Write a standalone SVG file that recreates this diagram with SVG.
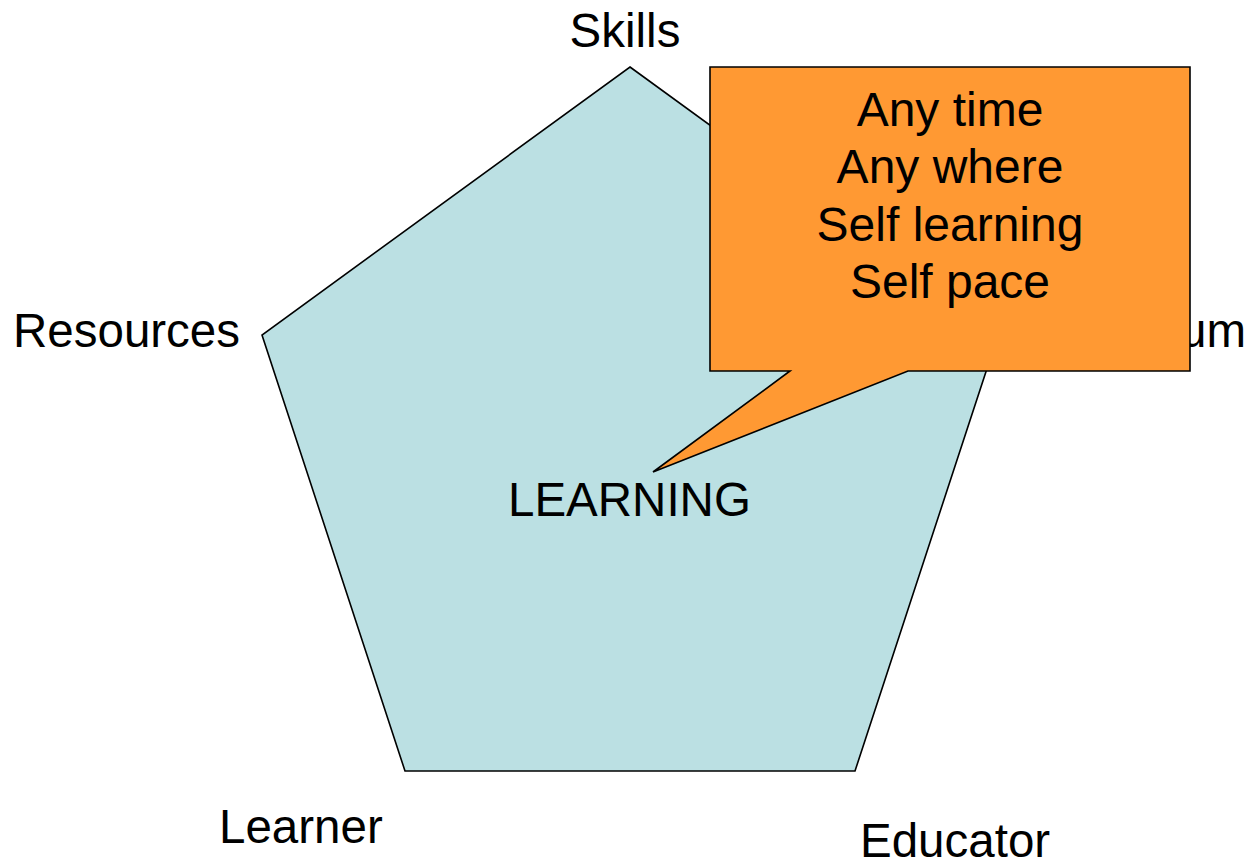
<svg xmlns="http://www.w3.org/2000/svg" width="1252" height="865" viewBox="0 0 1252 865">
<style>
text{font-family:"Liberation Sans",Arial,sans-serif;fill:#000}
.lbl{font-size:47.5px}
.big{font-size:48px}
.shape{stroke:#000;stroke-width:1.6;stroke-linejoin:miter}
</style>
<rect width="1252" height="865" fill="#fff"/>
<g id="pentagon">
<polygon class="shape" points="630,67 998,335 855,771 405,771 262,335" fill="#BBE0E3"/>
<text class="lbl" x="508" y="516">LEARNING</text>
</g>
<g id="label-skills"><text class="lbl" x="625" y="47" text-anchor="middle">Skills</text></g>
<g id="label-resources"><text class="lbl" x="13" y="347">Resources</text></g>
<g id="label-curriculum"><text class="lbl" x="1246" y="347" text-anchor="end">Curriculum</text></g>
<g id="label-learner"><text class="lbl" x="219" y="843">Learner</text></g>
<g id="label-educator"><text class="lbl" x="860" y="857">Educator</text></g>
<g id="connectors"></g>
<g id="callout">
<path class="shape" d="M710,67 H1190 V371 H908 L653,472 L790,371 H710 Z" fill="#FF9933"/>
<text class="big" text-anchor="middle"><tspan x="950" y="126">Any time</tspan><tspan x="950" y="183">Any where</tspan><tspan x="950" y="241">Self learning</tspan><tspan x="950" y="298">Self pace</tspan></text>
</g>
</svg>
